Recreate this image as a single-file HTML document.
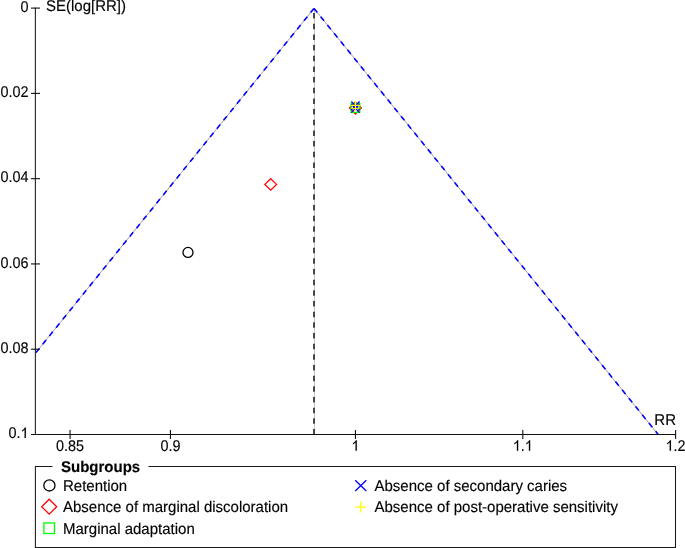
<!DOCTYPE html>
<html>
<head>
<meta charset="utf-8">
<style>
html,body{margin:0;padding:0;background:#fff;width:685px;height:548px;overflow:hidden}
svg{display:block;will-change:transform}
text{font-family:"Liberation Sans",sans-serif;font-size:15.5px;fill:#000;text-rendering:geometricPrecision;stroke:#000;stroke-width:0.15px}
.one{fill:#000;stroke:#000;stroke-width:20px}
</style>
</head>
<body>
<svg width="685" height="548" viewBox="0 0 685 548">
<g stroke="#a0a0a0" stroke-width="1" fill="none">
<line x1="314.0" y1="8.4" x2="35.4" y2="353.26"/>
<line x1="314.0" y1="8.4" x2="658.18" y2="434.5"/>
</g>
<line x1="314.5" y1="8.4" x2="314.5" y2="434.5" stroke="#c4c4c4" stroke-width="1"/>
<g stroke="#0000ff" stroke-width="1.6" fill="none" stroke-dasharray="5.33 5.33">
<line x1="314.0" y1="8.4" x2="35.4" y2="353.26"/>
<line x1="314.0" y1="8.4" x2="658.18" y2="434.5"/>
</g>
<line x1="314.0" y1="434.5" x2="314.0" y2="8.4" stroke="#222" stroke-width="1.6" stroke-dasharray="5.5 5.165"/>
<g stroke="#111" stroke-width="1.1" fill="none">
<line x1="31" y1="434.5" x2="676" y2="434.5"/>
<line x1="31" y1="8.1" x2="40" y2="8.1"/>
<line x1="31" y1="93.38" x2="40" y2="93.38"/>
<line x1="31" y1="178.66" x2="40" y2="178.66"/>
<line x1="31" y1="263.94" x2="40" y2="263.94"/>
<line x1="31" y1="349.22" x2="40" y2="349.22"/>
<line x1="70.07" y1="430" x2="70.07" y2="439"/>
<line x1="170.44" y1="430" x2="170.44" y2="439"/>
<line x1="355.45" y1="430" x2="355.45" y2="439"/>
<line x1="522.81" y1="430" x2="522.81" y2="439"/>
<line x1="675.61" y1="430" x2="675.61" y2="439"/>
</g>
<line x1="35.35" y1="7.6" x2="35.35" y2="434.5" stroke="#000" stroke-width="0.95"/>
<text transform="translate(24.5 11.7) scale(0.9300 1.0)" text-anchor="middle">0</text>
<text transform="translate(4.5 96.98) scale(0.9300 1.0)" text-anchor="middle">0</text>
<text transform="translate(10.5 96.98) scale(0.9300 1.0)" text-anchor="middle">.</text>
<text transform="translate(16.5 96.98) scale(0.9300 1.0)" text-anchor="middle">0</text>
<text transform="translate(24.5 96.98) scale(0.9300 1.0)" text-anchor="middle">2</text>
<text transform="translate(4.5 182.26) scale(0.9300 1.0)" text-anchor="middle">0</text>
<text transform="translate(10.5 182.26) scale(0.9300 1.0)" text-anchor="middle">.</text>
<text transform="translate(16.5 182.26) scale(0.9300 1.0)" text-anchor="middle">0</text>
<text transform="translate(24.5 182.26) scale(0.9300 1.0)" text-anchor="middle">4</text>
<text transform="translate(4.5 267.54) scale(0.9300 1.0)" text-anchor="middle">0</text>
<text transform="translate(10.5 267.54) scale(0.9300 1.0)" text-anchor="middle">.</text>
<text transform="translate(16.5 267.54) scale(0.9300 1.0)" text-anchor="middle">0</text>
<text transform="translate(24.5 267.54) scale(0.9300 1.0)" text-anchor="middle">6</text>
<text transform="translate(4.5 352.82) scale(0.9300 1.0)" text-anchor="middle">0</text>
<text transform="translate(10.5 352.82) scale(0.9300 1.0)" text-anchor="middle">.</text>
<text transform="translate(16.5 352.82) scale(0.9300 1.0)" text-anchor="middle">0</text>
<text transform="translate(24.5 352.82) scale(0.9300 1.0)" text-anchor="middle">8</text>
<text transform="translate(12.5 438.1) scale(0.9300 1.0)" text-anchor="middle">0</text>
<text transform="translate(18.5 438.1) scale(0.9300 1.0)" text-anchor="middle">.</text>
<path class="one" transform="translate(20.49 438.1) scale(0.007039 -0.007196)" d="M763 0L583 0L583 1147Q500 1068 365 990Q290 946 223 921L223 1094Q380 1168 480 1266Q580 1364 623 1466L763 1466Z"/>
<text transform="translate(46 11.3) scale(0.9677 1.0)">SE(log[RR])</text>
<text transform="translate(676 424.7) scale(0.9677 1.0)" text-anchor="end">RR</text>
<text transform="translate(60.07 450.8) scale(0.9300 1.0)" text-anchor="middle">0</text>
<text transform="translate(66.07 450.8) scale(0.9300 1.0)" text-anchor="middle">.</text>
<text transform="translate(72.07 450.8) scale(0.9300 1.0)" text-anchor="middle">8</text>
<text transform="translate(80.07 450.8) scale(0.9300 1.0)" text-anchor="middle">5</text>
<text transform="translate(164.44 450.8) scale(0.9300 1.0)" text-anchor="middle">0</text>
<text transform="translate(170.44 450.8) scale(0.9300 1.0)" text-anchor="middle">.</text>
<text transform="translate(176.44 450.8) scale(0.9300 1.0)" text-anchor="middle">9</text>
<path class="one" transform="translate(351.44 450.8) scale(0.007039 -0.007196)" d="M763 0L583 0L583 1147Q500 1068 365 990Q290 946 223 921L223 1094Q380 1168 480 1266Q580 1364 623 1466L763 1466Z"/>
<path class="one" transform="translate(512.80 450.8) scale(0.007039 -0.007196)" d="M763 0L583 0L583 1147Q500 1068 365 990Q290 946 223 921L223 1094Q380 1168 480 1266Q580 1364 623 1466L763 1466Z"/>
<text transform="translate(522.81 450.8) scale(0.9300 1.0)" text-anchor="middle">.</text>
<path class="one" transform="translate(524.80 450.8) scale(0.007039 -0.007196)" d="M763 0L583 0L583 1147Q500 1068 365 990Q290 946 223 921L223 1094Q380 1168 480 1266Q580 1364 623 1466L763 1466Z"/>
<path class="one" transform="translate(665.60 450.8) scale(0.007039 -0.007196)" d="M763 0L583 0L583 1147Q500 1068 365 990Q290 946 223 921L223 1094Q380 1168 480 1266Q580 1364 623 1466L763 1466Z"/>
<text transform="translate(675.61 450.8) scale(0.9300 1.0)" text-anchor="middle">.</text>
<text transform="translate(681.61 450.8) scale(0.9300 1.0)" text-anchor="middle">2</text>
<circle cx="188" cy="252.4" r="5" stroke="#000" stroke-width="1.3" fill="none"/>
<path d="M270.7 178.7 L276.55 184.4 L270.7 190.1 L264.85 184.4 Z" stroke="#ff0000" stroke-width="1.3" fill="none"/>
<g fill="none" stroke-width="1.25">
<path d="M355.45 102 L361.45 108.1 L355.45 114.2 L349.45 108.1 Z" stroke="#ff0000"/>
<rect x="351.1" y="103.5" width="8.7" height="8.9" stroke="#00ff00"/>
<path d="M351.3 101.5 L359.6 110 M359.6 101.5 L351.3 110" stroke="#0000ff" stroke-width="1.3"/>
<path d="M351.3 104.2 L359.6 112.6 M359.6 104.2 L351.3 112.6" stroke="#0000ff" stroke-width="1.3"/>
<path d="M355.45 101 L355.45 111.5 M350.7 105.4 L360.2 105.4" stroke="#ffff00" stroke-width="1.3"/>
<path d="M351.6 108.4 L359.3 108.4" stroke="#ffff00" stroke-width="1.0"/>
</g>
<path d="M52.5 466.5 L35.4 466.5 L35.4 547.45 L675.5 547.45 L675.5 466.5 L148.5 466.5" stroke="#1a1a1a" stroke-width="1.05" fill="none"/>
<text transform="translate(61 471.6) scale(0.9677 1.0)" font-weight="bold">Subgroups</text>
<circle cx="49.4" cy="485.4" r="5.6" stroke="#000" stroke-width="1.3" fill="none"/>
<path d="M49.2 499.2 L56.7 506.7 L49.2 514.2 L41.7 506.7 Z" stroke="#ff0000" stroke-width="1.3" fill="none"/>
<rect x="43.9" y="522.9" width="10.6" height="10.6" stroke="#00ff00" stroke-width="1.3" fill="none"/>
<text transform="translate(63 490.7) scale(0.9677 1.0)">Retention</text>
<text transform="translate(63 512.2) scale(0.9677 1.0)">Absence of marginal discoloration</text>
<text transform="translate(63 533.5) scale(0.9677 1.0)">Marginal adaptation</text>
<path d="M355.2 480.2 L366.3 491 M366.3 480.2 L355.2 491" stroke="#0000ff" stroke-width="1.3" fill="none"/>
<path d="M360.8 501.8 L360.8 512.6 M355.3 507.2 L366.3 507.2" stroke="#ffff00" stroke-width="1.3" fill="none"/>
<text transform="translate(374.5 491) scale(0.9677 1.0)">Absence of secondary caries</text>
<text transform="translate(374.5 512.2) scale(0.9677 1.0)">Absence of post-operative sensitivity</text>
</svg>
</body>
</html>
